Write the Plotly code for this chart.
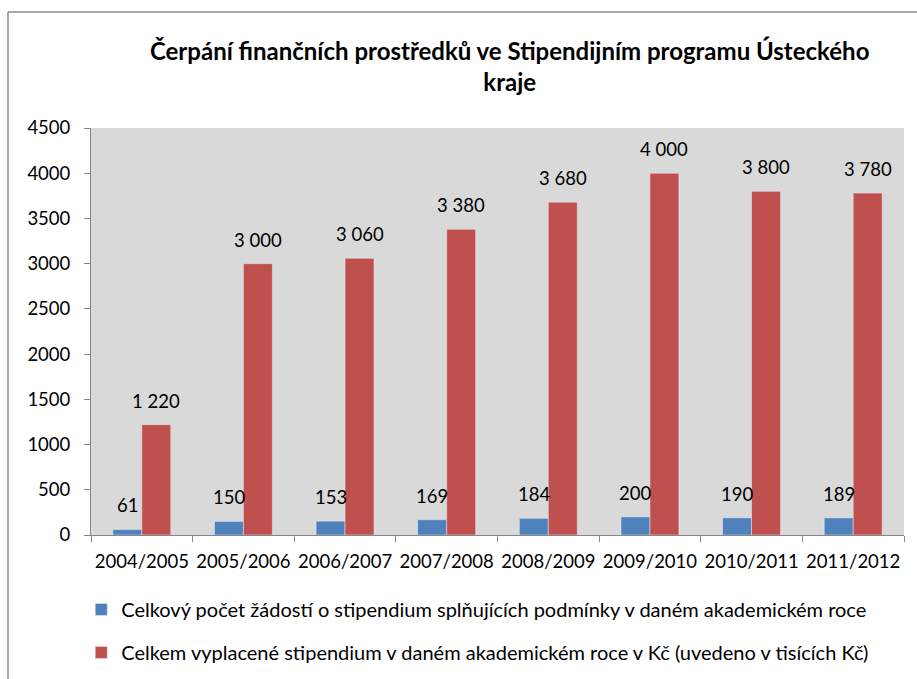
import plotly.graph_objects as go

years = ["2004/2005", "2005/2006", "2006/2007", "2007/2008", "2008/2009", "2009/2010", "2010/2011", "2011/2012"]
zadosti = [61, 150, 153, 169, 184, 200, 190, 189]
vyplaceno = [1220, 3000, 3060, 3380, 3680, 4000, 3800, 3780]
name_zadosti = "Celkový počet žádostí o stipendium splňujících podmínky v daném akademickém roce"
name_vyplaceno = "Celkem vyplacené stipendium v daném akademickém roce v Kč (uvedeno v tisících Kč)"
title_text = "Čerpání finančních prostředků ve Stipendijním programu Ústeckého<br>kraje"

FONT = "Lato"
TICK = 18.5
fig = go.Figure()
fig.add_trace(go.Bar(x=years, y=zadosti, name=name_zadosti, marker_color="#4f81bd", legendgroup="a"))
fig.add_trace(go.Bar(x=years, y=vyplaceno, name=name_vyplaceno, marker_color="#c0504d", legendgroup="b"))


def fmt(v):
    return f"{v:,}".replace(",", " ")


annotations = []
for xs, series in ((-14.5, zadosti), (14.5, vyplaceno)):
    for cat, v in zip(years, series):
        annotations.append(dict(x=cat, y=v, xref="x", yref="y", text=fmt(v), showarrow=False,
                                xshift=xs, yshift=24, xanchor="center", yanchor="middle",
                                font=dict(size=TICK, family=FONT, color="black")))

fig.update_layout(
    width=917, height=679,
    margin=dict(l=91, r=13, t=128, b=144, autoexpand=False),
    paper_bgcolor="white", plot_bgcolor="#d9d9d9",
    font=dict(family=FONT, size=TICK, color="black"),
    title=dict(text=title_text, x=0.515, xref="paper", xanchor="center", y=0.912, yanchor="middle",
               font=dict(family=FONT, size=24, color="black", weight="bold")),
    barmode="group", bargap=0.43, bargroupgap=0,
    showlegend=True,
    legend=dict(orientation="v", x=-0.012, y=-0.135, xanchor="left", yanchor="top", itemwidth=30,
                traceorder="grouped", tracegroupgap=14, font=dict(size=20, family=FONT),
                bgcolor="rgba(0,0,0,0)"),
    annotations=annotations,
    shapes=[
        dict(type="line", xref="paper", yref="paper", x0=(8-91)/813, x1=(8-91)/813, y0=(535-12)/407, y1=(535-700)/407,
             line=dict(color="#8c8c8c", width=1.5)),
        dict(type="line", xref="paper", yref="paper", x0=(8-91)/813, x1=(930-91)/813, y0=(535-12)/407, y1=(535-12)/407,
             line=dict(color="#8c8c8c", width=1.5)),
    ],
)
fig.update_yaxes(range=[0, 4500], dtick=500, showgrid=False, zeroline=False, showline=True, automargin=False,
                 linecolor="#868686", linewidth=1, ticks="outside", ticklen=6, tickcolor="#868686",
                 ticklabelstandoff=10, tickfont=dict(size=TICK, family=FONT))
fig.update_xaxes(showgrid=False, showline=True, linecolor="#868686", linewidth=1, ticks="outside", automargin=False,
                 tickson="boundaries", ticklen=6, tickcolor="#868686", ticklabelstandoff=10, tickangle=0,
                 tickfont=dict(size=TICK, family=FONT))

fig.write_html("out.html", config={"displayModeBar": False},
               post_script="document.body.style.margin='0';")
